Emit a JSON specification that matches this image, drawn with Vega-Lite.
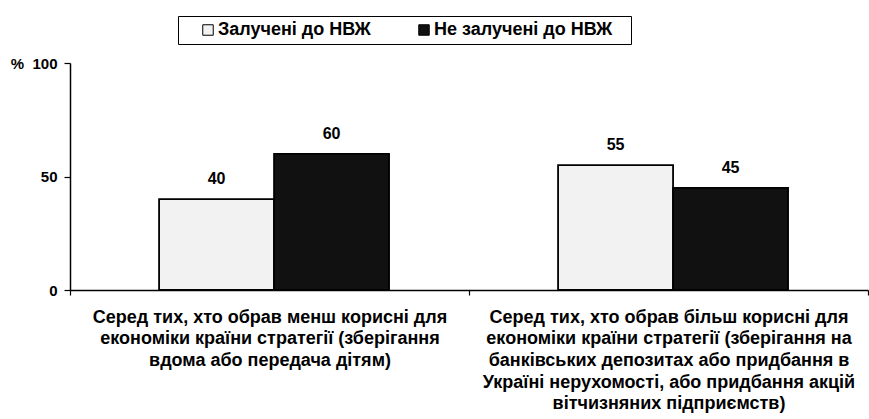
{
  "$schema": "https://vega.github.io/schema/vega-lite/v6.json",
  "width": 798,
  "height": 227,
  "autosize": {"type": "none"},
  "padding": {"left": 70, "top": 63, "right": 1, "bottom": 129},
  "background": "white",
  "config": {
    "view": {"stroke": null},
    "font": "Liberation Sans",
    "axis": {"grid": false, "domainColor": "black", "tickColor": "black", "labelColor": "black", "labelFontWeight": "bold", "domainWidth": 1.5, "tickWidth": 1.2},
    "axisY": {"labelFontSize": 15, "labelFontWeight": "bold", "tickSize": 6, "labelPadding": 7}
  },
  "data": {
    "values": [
      {"category": "Серед тих, хто обрав менш корисні для|економіки країни стратегії (зберігання|вдома або передача дітям)", "series": "Залучені до НВЖ", "value": 40},
      {"category": "Серед тих, хто обрав менш корисні для|економіки країни стратегії (зберігання|вдома або передача дітям)", "series": "Не залучені до НВЖ", "value": 60},
      {"category": "Серед тих, хто обрав більш корисні для|економіки країни стратегії (зберігання на|банківських депозитах або придбання в|Україні нерухомості, або придбання акцій|вітчизняних підприємств)", "series": "Залучені до НВЖ", "value": 55},
      {"category": "Серед тих, хто обрав більш корисні для|економіки країни стратегії (зберігання на|банківських депозитах або придбання в|Україні нерухомості, або придбання акцій|вітчизняних підприємств)", "series": "Не залучені до НВЖ", "value": 45}
    ]
  },
  "encoding": {
    "x": {
      "field": "category", "type": "nominal", "sort": null,
      "scale": {"paddingInner": 0, "paddingOuter": 0},
      "axis": {"title": null, "labelAngle": 0, "labelExpr": "split(datum.label, '|')", "labelFontSize": 18, "labelFontWeight": "bold", "labelLineHeight": 21.7, "labelLimit": 0, "labelPadding": 13, "labelBaseline": "top", "tickBand": "extent", "tickSize": 5}
    },
    "xOffset": {"field": "series", "type": "nominal", "sort": null, "scale": {"paddingInner": 0, "paddingOuter": 0.735, "align": 0.527}},
    "y": {
      "field": "value", "type": "quantitative",
      "scale": {"domain": [0, 100]},
      "axis": {"title": null, "values": [0, 50, 100], "labelExpr": "datum.value == 100 ? '%\u00a0 100' : datum.label", "labelFontSize": 15, "labelFontWeight": "bold"}
    }
  },
  "layer": [
    {
      "mark": {"type": "bar", "stroke": "black", "strokeWidth": 1.8},
      "encoding": {
        "fill": {
          "field": "series", "type": "nominal", "sort": null,
          "scale": {"domain": ["Залучені до НВЖ", "Не залучені до НВЖ"], "range": ["#f2f2f2", "#111111"]},
          "legend": {
            "title": "\u200b", "titleOrient": "right", "titlePadding": 14, "titleFontSize": 8,
            "orient": "none", "legendX": 108, "legendY": -47, "direction": "horizontal",
            "strokeColor": "black", "fillColor": "white", "padding": 5,
            "symbolType": "square", "symbolSize": 110, "symbolStrokeColor": "black", "symbolStrokeWidth": 1,
            "symbolOffset": 16, "labelOffset": 1, "labelFontSize": 18, "labelFontWeight": "bold", "labelColor": "black",
            "columnPadding": 28, "labelLimit": 0
          }
        }
      }
    },
    {
      "mark": {"type": "text", "dy": -15, "baseline": "alphabetic", "fontWeight": "bold", "fontSize": 16, "color": "black"},
      "encoding": {"text": {"field": "value", "type": "quantitative"}}
    }
  ]
}
